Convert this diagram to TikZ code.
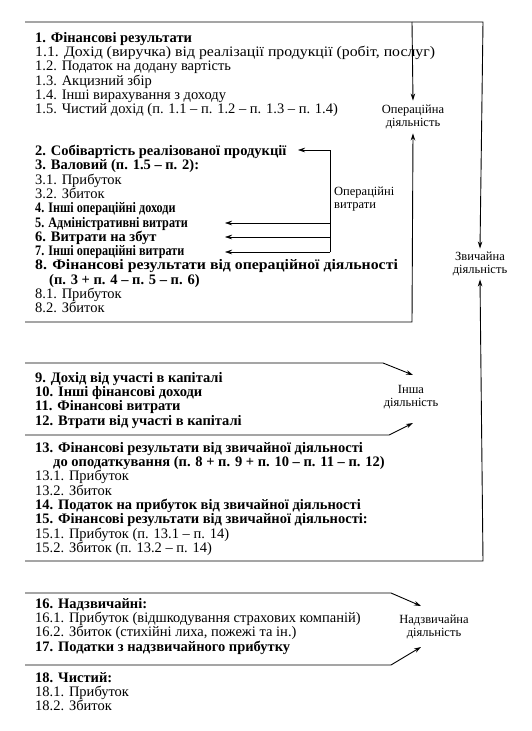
\documentclass[tikz,border=0pt]{standalone}
\usepackage{fontspec}
\setmainfont{Liberation Serif}
\usetikzlibrary{calc, positioning, arrows.meta}
\newcommand\txtfont{\fontsize{14.5}{14.3}\selectfont\lineskiplimit=-10pt\relax}
\newcommand\labfont{\fontsize{12.5}{13.5}\selectfont}
\newcommand\narrowtxt[1]{\scalebox{0.84}[1]{#1}}
\newcommand\widetxt[1]{\scalebox{1.09}[1]{#1}}

\begin{document}
\begin{tikzpicture}[
  x=1pt, y=-1pt,
  every node/.style={inner sep=0pt},
  blk/.style={anchor=north west, align=left, font=\txtfont},
  lab/.style={align=center, font=\labfont},
  rule/.style={line width=0.9pt},
  >={Stealth[length=7pt, width=4.5pt]}
]
  \useasboundingbox (0,0) rectangle (532,731);

  % --- Operating activity ---
  \node[blk] (r1) at (35,32) {\strut\textbf{1. Фінансові результати}\\
    \widetxt{1.1. Дохід (виручка) від реалізації продукції (робіт, послуг)}\\
    1.2. Податок на додану вартість\\
    1.3. Акцизний збір\\
    1.4. Інші вирахування з доходу\\
    1.5. Чистий дохід (п. 1.1 – п. 1.2 – п. 1.3 – п. 1.4)};
  \node[blk] (r2) at (35,145) {\strut\textbf{2. Собівартість реалізованої продукції}\\
    \textbf{3. Валовий (п. 1.5 – п. 2):}\\
    3.1. Прибуток\\
    3.2. Збиток\\
    \narrowtxt{\textbf{4. Інші операційні доходи}}\\
    \narrowtxt{\textbf{5. Адміністративні витрати}}\\
    \textbf{6. Витрати на збут}\\
    \narrowtxt{\textbf{7. Інші операційні витрати}}\\
    \widetxt{\textbf{8. Фінансові результати від операційної діяльності}}\\
    \hspace*{14pt}\textbf{(п. 3 + п. 4 – п. 5 – п. 6)}\\
    8.1. Прибуток\\
    8.2. Збиток};
  \node[lab] (opd) at (413,117) {Операційна\\діяльність};
  \node[lab, align=left, anchor=west] (opv) at (334,199) {Операційні\\витрати};

  % --- Other activity ---
  \node[blk] (r3) at (35,372) {\strut\textbf{9. Дохід від участі в капіталі}\\
    \textbf{10. Інші фінансові доходи}\\
    \textbf{11. Фінансові витрати}\\
    \textbf{12. Втрати від участі в капіталі}};
  \node[lab] (insh) at (411,397) {Інша\\діяльність};

  \node[blk] (r4) at (35,442) {\strut\textbf{13. Фінансові результати від звичайної діяльності}\\
    \hspace*{18pt}\textbf{до оподаткування (п. 8 + п. 9 + п. 10 – п. 11 – п. 12)}\\
    13.1. Прибуток\\
    13.2. Збиток\\
    \textbf{14. Податок на прибуток від звичайної діяльності}\\
    \textbf{15. Фінансові результати від звичайної діяльності:}\\
    15.1. Прибуток (п. 13.1 – п. 14)\\
    15.2. Збиток (п. 13.2 – п. 14)};
  \node[lab] (zvd) at (480,264) {Звичайна\\діяльність};

  % --- Extraordinary activity ---
  \node[blk] (r5) at (35,598) {\strut\textbf{16. Надзвичайні:}\\
    16.1. Прибуток (відшкодування страхових компаній)\\
    16.2. Збиток (стихійні лиха, пожежі та ін.)\\
    \textbf{17. Податки з надзвичайного прибутку}};
  \node[lab] (nadz) at (434,627) {Надзвичайна\\діяльність};

  \node[blk] (r6) at (35,672) {\strut\textbf{18. Чистий:}\\
    18.1. Прибуток\\
    18.2. Збиток};

  % corner points
  \coordinate (t0) at (25,22);
  \coordinate (t1) at (483,22);
  \coordinate (t2) at (412,22);
  \coordinate (o0) at (25,322);
  \coordinate (o1) at (412,322);
  \coordinate (v0) at (330,150);
  \coordinate (v1) at (330,252);
  \coordinate (i0) at (25,363);
  \coordinate (i1) at (383,363);
  \coordinate (i2) at (25,435);
  \coordinate (i3) at (389,435);
  \coordinate (z0) at (25,561);
  \coordinate (z1) at (483,561);
  \coordinate (n0) at (25,593);
  \coordinate (n1) at (391,593);
  \coordinate (n2) at (25,665);
  \coordinate (n3) at (391,665);

  % outer frame lines and arrows
  \draw[rule, ->] (t0) -- (t1) -- ($(zvd.north)+(0,-3)$);
  \draw[rule, ->] (z0) -- (z1) -- ($(zvd.south)+(0,3)$);
  \draw[rule, ->] (t2) -- ($(opd.north)+(0,-4)$);
  \draw[rule, ->] (o0) -- (o1) -- ($(opd.south)+(0,4)$);

  % operating expenses bracket
  \draw[thin, ->] (v1) -- (v0) -- (v0 -| 298,0);
  \foreach \yy in {223,237,252}
    \draw[thin, ->] (330,\yy) -- (225,\yy);

  % other activity
  \draw[rule, ->] (i0) -- (i1) -- (413,375);
  \draw[rule, ->] (i2) -- (i3) -- (413,423);

  % extraordinary activity
  \draw[rule, ->] (n0) -- (n1) -- (421,606);
  \draw[rule, ->] (n2) -- (n3) -- (421,647);
\end{tikzpicture}
\end{document}
